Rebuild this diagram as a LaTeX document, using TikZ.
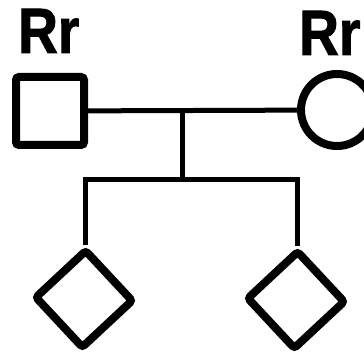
\documentclass[tikz,border=0pt]{standalone}
\usepackage{fontspec}
\setmainfont{Liberation Sans}
\newfontfamily\genofont[FakeStretch=0.86, FakeBold=1.5]{Liberation Sans}

\begin{document}
\begin{tikzpicture}[x=1pt, y=-1pt,
        person/.style = {draw=black, fill=white, line width=8pt, inner sep=0pt, minimum size=68pt},
        male/.style = {person, rectangle, rounded corners=3pt},
        female/.style = {person, circle, minimum size=72pt},
        kid/.style = {person, rectangle, rounded corners=3pt, rotate=43},
        geno/.style = {font={\genofont\fontsize{64}{64}\selectfont\bfseries}, black, inner sep=0pt, anchor=base west},
        link/.style = {line width=5pt, line join=miter}]
        \useasboundingbox (0,0) rectangle (364,358);

        \node[male] (father) at (50,111) {};
        \node[female] (mother) at (337,110) {};
        \node[kid] (kid1) at (84,299) {};
        \node[kid] (kid2) at (296,300) {};

        \node[geno] (gfather) at (18,53) {Rr};
        \node[geno] (gmother) at (299,55) {Rr};

        \coordinate (mate) at (182,111);
        \coordinate (sibs) at (182,180);

        \draw[link] (father) -- (mother);
        \draw[link] (mate) -- (sibs);
        \draw[link] (kid1.north east) |- (sibs) -| (kid2.north east);
    \end{tikzpicture}
\end{document}
